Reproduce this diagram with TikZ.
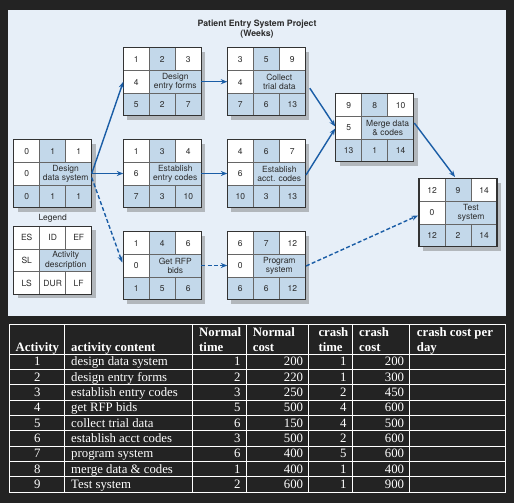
\documentclass[tikz,border=0pt]{standalone}
\usepackage{fontspec}
\setmainfont{Liberation Serif}
\newfontfamily\hv{TeX Gyre Heros}
\usetikzlibrary{calc,arrows.meta}
\definecolor{bgdark}{HTML}{232323}
\definecolor{panelc}{HTML}{E7EFF8}
\definecolor{cellblue}{HTML}{C3D8EA}
\definecolor{shadowc}{HTML}{B2B7BC}
\definecolor{arrowc}{HTML}{1A5DA6}
\definecolor{bordc}{HTML}{333333}
\definecolor{textc}{HTML}{2B2B2B}
\def\idcol{cellblue}
\def\botcol{cellblue}
\newcommand\cells[9]{%
  \fill[shadowc] ($(#1.north west)+(4,4)$) rectangle ($(#1.south east)+(4,4)$);
  \begin{scope}[shift={(#1.north west)}]
    \fill[white] (0,0) rectangle (78,22.67);
    \fill[\idcol] (26,0) rectangle (52,22.67);
    \fill[white] (0,22.67) rectangle (26,45.33);
    \fill[cellblue] (26,22.67) rectangle (78,45.33);
    \fill[\botcol] (0,45.33) rectangle (78,68);
    \draw[innerline] (0,22.67) -- (78,22.67) (0,45.33) -- (78,45.33)
      (26,0) -- (26,68) (52,0) -- (52,22.67) (52,45.33) -- (52,68);
    \draw[bordc, line width=1.1pt] (0,0) rectangle (78,68);
    \node[cellt] (#1-es) at (13,11.6) {#2};
    \node[cellt] (#1-id) at (39,11.6) {#3};
    \node[cellt] (#1-ef) at (65,11.6) {#4};
    \node[cellt] (#1-sl) at (13,34.3) {#5};
    \node[cellt, align=center] (#1-de) at (52,34.3) {#6};
    \node[cellt] (#1-ls) at (13,57) {#7};
    \node[cellt] (#1-du) at (39,57) {#8};
    \node[cellt] (#1-lf) at (65,57) {#9};
  \end{scope}}
\tikzset{
  box/.style={minimum width=78pt, minimum height=68pt, inner sep=0pt, outer sep=0pt},
  innerline/.style={draw=bordc!75, line width=0.6pt},
  cellt/.style={inner sep=0pt, text=textc, font=\hv\fontsize{8.5}{9.6}\selectfont},
  flow/.style={draw=arrowc, line width=1.4pt, -{Stealth[length=6.5pt,width=5pt]}},
  dflow/.style={flow, dash pattern=on 4pt off 2.3pt},
  tab/.style={inner sep=0pt, text=white, font=\fontsize{12.8}{14}\selectfont},
  tabh/.style={tab, font=\bfseries\fontsize{12.8}{14}\selectfont},
}
\begin{document}
\begin{tikzpicture}[x=1pt, y=-1pt]
\useasboundingbox (0,0) rectangle (514,503);
\fill[bgdark] (0,0) rectangle (514,503);
\fill[panelc] (8,10) rectangle (506,315.5);
% title
\node[inner sep=0pt, text=textc, font=\hv\bfseries\fontsize{8.7}{10}\selectfont, align=center] (title) at (257,29.5) {Patient Entry System Project\\(Weeks)};
% boxes
\node[box] (dds) at (52.7,173.5) {};
\node[box] (def) at (162.3,81.7) {};
\node[box] (ctd) at (266.3,81.7) {};
\node[box] (mdc) at (374.7,127.5) {};
\node[box] (ts) at (458,212.5) {};
\node[box] (eec) at (162.3,173.5) {};
\node[box] (eac) at (266.3,173.5) {};
\node[box] (leg) at (52.7,260.2) {};
\node[box] (rfp) at (162.3,265.5) {};
\node[box] (ps) at (266.3,265.5) {};
\cells{dds}{0}{1}{1}{0}{Design\\data system}{0}{1}{1}
\cells{def}{1}{2}{3}{4}{Design\\entry forms}{5}{2}{7}
\cells{ctd}{3}{5}{9}{4}{Collect\\trial data}{7}{6}{13}
\cells{mdc}{9}{8}{10}{5}{Merge data\\\& codes}{13}{1}{14}
\cells{ts}{12}{9}{14}{0}{Test\\system}{12}{2}{14}
\cells{eec}{1}{3}{4}{6}{Establish\\entry codes}{7}{3}{10}
\cells{eac}{4}{6}{7}{6}{Establish\\acct. codes}{10}{3}{13}
\cells{rfp}{1}{4}{6}{0}{Get RFP\\bids}{1}{5}{6}
\cells{ps}{6}{7}{12}{0}{Program\\system}{6}{6}{12}
{\def\idcol{white}\def\botcol{white}%
\cells{leg}{ES}{ID}{EF}{SL}{Activity\\description}{LS}{DUR}{LF}}
\node[cellt] (legt) at (52.7,218) {Legend};
% connectors
\draw[flow] (dds.east) -- (def.west);
\draw[flow] (dds.east) -- (eec.west);
\draw[dflow] ($(dds.east)+(0,4)$) -- ($(rfp.west)+(-1,-3)$);
\draw[flow] (def.east) -- (ctd.west);
\draw[flow] (eec.east) -- (eac.west);
\draw[dflow] (rfp.east) -- (ps.west);
\draw[flow] ($(ctd.east)+(4.5,6.5)$) -- ($(mdc.west)+(-0.5,-1)$);
\draw[flow] ($(eac.east)+(0.7,1.5)$) -- ($(mdc.west)+(-0.5,1)$);
\draw[flow] ($(mdc.east)+(0.6,-4.5)$) -- ($(ts.north)+(-3,-1.5)$);
\draw[dflow] ($(ps.east)+(0.7,0.5)$) -- ($(ts.west)+(-1,3)$);
% table grid
\draw[white, line width=1pt] (9.3,324.3) rectangle (505.3,492);
\foreach \xx in {64.3,192.3,246,308.3,352,409.3}
  \draw[white, line width=1pt] (\xx,324.3) -- (\xx,492);
\foreach \k in {0,...,8}
  \draw[white, line width=1pt] (9.3,354+15.333*\k) -- (505.3,354+15.333*\k);
% header
\node[tabh, anchor=base] (h1) at (37.3,351.3) {Activity};
\node[tabh, anchor=base west] (h2) at (71,351.3) {activity content};
\node[tabh, anchor=base west] (h3a) at (199,336.8) {Normal};
\node[tabh, anchor=base west] (h3b) at (199,351.3) {time};
\node[tabh, anchor=base west] (h4a) at (252.7,336.8) {Normal};
\node[tabh, anchor=base west] (h4b) at (252.7,351.3) {cost};
\node[tabh, anchor=base west] (h5a) at (318.3,336.8) {crash};
\node[tabh, anchor=base west] (h5b) at (318.3,351.3) {time};
\node[tabh, anchor=base west] (h6a) at (359,336.8) {crash};
\node[tabh, anchor=base west] (h6b) at (359,351.3) {cost};
\node[tabh, anchor=base west] (h7a) at (416.7,336.8) {crash cost per};
\node[tabh, anchor=base west] (h7b) at (416.7,351.3) {day};
% rows
\foreach \i/\c/\nt/\nc/\ct/\cc in {1/design data system/1/200/1/200,
  2/design entry forms/2/220/1/300, 3/establish entry codes/3/250/2/450,
  4/get RFP bids/5/500/4/600, 5/collect trial data/6/150/4/500,
  6/establish acct codes/3/500/2/600, 7/program system/6/400/5/600,
  8/merge data \& codes/1/400/1/400, 9/Test system/2/600/1/900}{
  \pgfmathsetmacro\yy{354+15.333*\i-3.6}
  \node[tab, anchor=base] (ra\i) at (37.3,\yy) {\i};
  \node[tab, anchor=base west] (rc\i) at (71,\yy) {\c};
  \node[tab, anchor=base east] (rnt\i) at (240.7,\yy) {\nt};
  \node[tab, anchor=base east] (rnc\i) at (303.3,\yy) {\nc};
  \node[tab, anchor=base east] (rct\i) at (346.7,\yy) {\ct};
  \node[tab, anchor=base east] (rcc\i) at (404.3,\yy) {\cc};
}
\end{tikzpicture}
\end{document}
